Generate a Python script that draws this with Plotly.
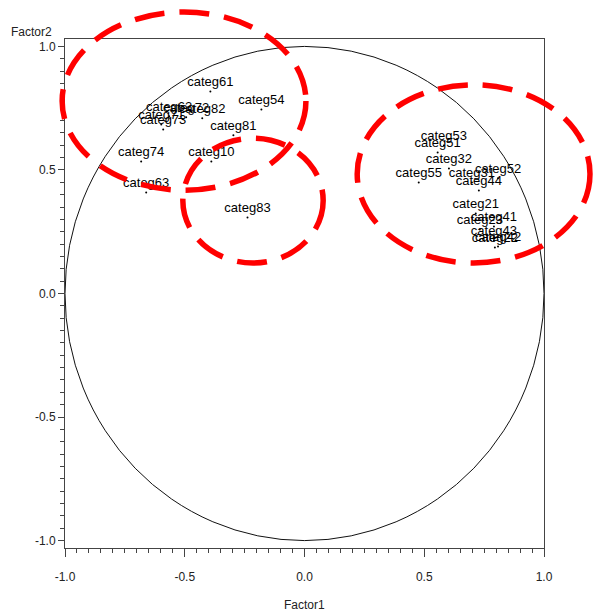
import plotly.graph_objects as go

labels = ["categ61", "categ54", "categ62", "categ72", "categ82", "categ71", "categ73",
          "categ81", "categ74", "categ10", "categ63", "categ83",
          "categ53", "categ51", "categ32", "categ55", "categ31", "categ52", "categ44",
          "categ21", "categ23", "categ41", "categ43", "categ42", "categ22"]
factor1 = [-0.393, -0.180, -0.565, -0.494, -0.427, -0.598, -0.590,
           -0.297, -0.682, -0.389, -0.661, -0.238,
           0.582, 0.556, 0.603, 0.477, 0.699, 0.808, 0.728,
           0.715, 0.732, 0.791, 0.791, 0.808, 0.795]
factor2 = [0.818, 0.745, 0.717, 0.713, 0.709, 0.684, 0.664,
           0.640, 0.534, 0.534, 0.409, 0.308,
           0.599, 0.571, 0.506, 0.449, 0.449, 0.466, 0.417,
           0.324, 0.259, 0.271, 0.215, 0.190, 0.186]

tick_vals = [-1.0, -0.5, 0.0, 0.5, 1.0]
tick_text = ["-1.0", "-0.5", "0.0", "0.5", "1.0"]

# highlight ellipses (paper coords): x0, x1, y0, y1
highlights = [(-0.006, 0.503, 0.703, 1.053),
              (0.246, 0.539, 0.560, 0.805),
              (0.610, 1.096, 0.560, 0.910)]

FONT = "Liberation Sans, Arial, sans-serif"

fig = go.Figure()
fig.add_trace(go.Scatter(
    x=factor1, y=factor2, mode="markers+text", text=labels,
    textposition="top center",
    textfont=dict(family=FONT, size=13, color="#000"),
    marker=dict(size=2, color="#000"),
    cliponaxis=False, showlegend=False, hoverinfo="skip"))

shapes = [dict(type="circle", xref="x", yref="y", x0=-1, y0=-1, x1=1, y1=1,
               line=dict(color="#111", width=1), layer="below")]
for (a, b, c, d) in highlights:
    shapes.append(dict(type="circle", xref="paper", yref="paper", x0=a, x1=b, y0=c, y1=d,
                       line=dict(color="#ff0000", width=5.5, dash="30px,15px"), layer="above"))

axis_common = dict(showgrid=False, zeroline=False, showline=True, linecolor="#444",
                   linewidth=1, mirror=True, ticks="outside", tickcolor="#444",
                   tickvals=tick_vals, ticktext=tick_text,
                   tickfont=dict(family=FONT, size=12, color="#222"),
                   minor=dict(ticks="outside", dtick=0.05, ticklen=4, tickcolor="#444"))

fig.update_layout(
    width=593, height=616,
    margin=dict(l=65, r=49, t=39, b=68),
    plot_bgcolor="white", paper_bgcolor="white",
    xaxis=dict(range=[-1, 1], ticklen=8, ticklabelstandoff=10, **axis_common),
    yaxis=dict(range=[-1.03, 1.03], ticklen=6, **axis_common),
    shapes=shapes,
    annotations=[
        dict(text="Factor1", xref="paper", yref="paper", x=0.5, y=-0.112,
             xanchor="center", yanchor="middle",
             showarrow=False, font=dict(family=FONT, size=12, color="#222")),
        dict(text="Factor2", xref="paper", yref="paper", x=-0.069, y=1.014,
             xanchor="center", yanchor="middle",
             showarrow=False, font=dict(family=FONT, size=12, color="#222")),
    ],
)

fig.write_html("out.html", config={"displayModeBar": False},
               post_script="document.body.style.margin='0';")
